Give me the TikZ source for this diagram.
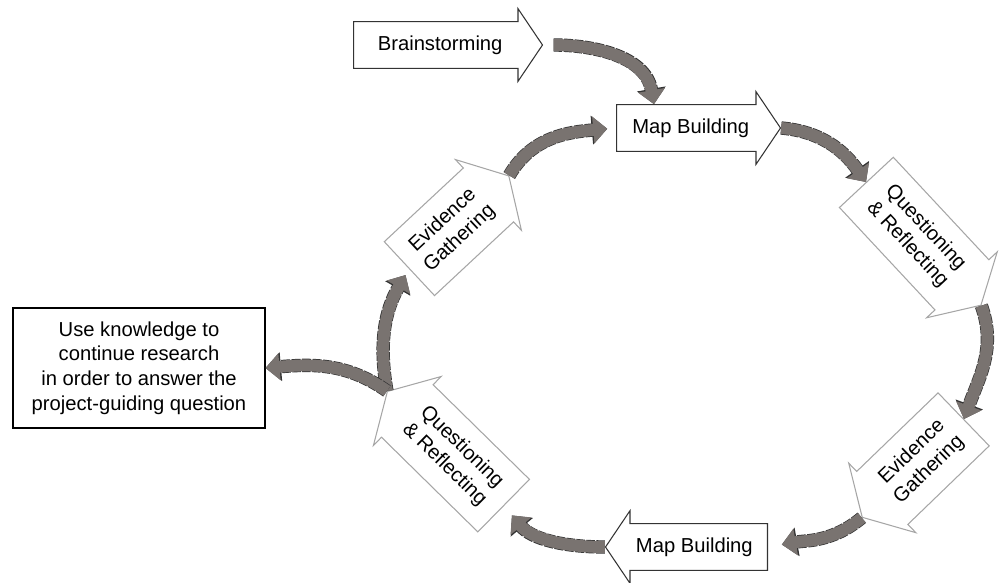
\documentclass[tikz,border=0pt]{standalone}
\usepackage{fontspec}
\setmainfont{Liberation Sans}
\usetikzlibrary{arrows.meta, shapes.arrows}

\definecolor{flowgray}{RGB}{121,115,112}

\begin{document}
\begin{tikzpicture}[
    x=0.02cm, y=0.02cm,
    every node/.style={font=\fontsize{11.5}{14}\selectfont, inner sep=2pt},
    flatarrow/.style={single arrow, draw=black!80, line width=0.6pt, fill=white, inner ysep=7.6pt, single arrow head extend=0.26cm, single arrow tip angle=112, anchor=tail},
    tiltarrow/.style={single arrow, draw=black!35, line width=0.6pt, fill=white, align=center, inner ysep=8.3pt, single arrow head extend=0.23cm, single arrow tip angle=120, anchor=tail},
    flow/.style={draw=flowgray, line width=6.8pt, -{Triangle[width=15pt, length=8pt]},
        preaction={draw=black!80, line width=7.6pt, dash pattern=on 5pt off 0.8pt, -{Triangle[width=16pt, length=8.8pt]}}}
]
\useasboundingbox (0,0) rectangle (1000,582);

% Nodes
\node[flatarrow, minimum height=3.78cm] (BS) at (353,537) {Brainstorming};
\node[flatarrow, minimum height=3.28cm] (MB1) at (616,454) {Map Building};
\node[tiltarrow, minimum height=3.36cm, rotate=-47] (QR1) at (866,400) {Questioning\\\& Reflecting};
\node[tiltarrow, minimum height=2.82cm, rotate=44, shape border rotate=180] (EG1) at (964,163) {Evidence\\Gathering};
\node[flatarrow, minimum height=3.24cm, shape border rotate=180] (MB2) at (768,35) {Map Building};
\node[tiltarrow, minimum height=3.26cm, rotate=-44.5, shape border rotate=180] (QR2) at (504,76) {Questioning\\\& Reflecting};
\node[tiltarrow, minimum height=2.72cm, rotate=43] (EG2) at (409,313) {Evidence\\Gathering};
\node[draw, align=center, minimum width=5.04cm, minimum height=2.4cm, line width=0.6pt] (UK) at (139,214) {Use knowledge to\\continue research\\in order to answer the\\project-guiding question};

% Arrows
\draw[flow, shorten <=6pt] (BS.tip) to[out=0, in=100] (MB1.147);
\draw[flow] (MB1.tip) to[out=-5, in=125] (QR1.tail);
\draw[flow] (QR1.tip) to[out=-70, in=70] (EG1.tail);
\draw[flow, shorten >=8pt] (EG1.tip) to[out=-140, in=10] (MB2.tail);
\draw[flow, shorten >=7pt] (MB2.tip) to[out=180, in=-50] (QR2.tail);
\draw[flow, shorten >=4pt] (QR2.tip) to[out=100, in=-120] (EG2.tail);
\draw[flow] (QR2.tip) to[out=145, in=5] (UK.east);
\draw[flow, shorten >=5pt] (EG2.tip) to[out=60, in=185] (MB1.tail);

\end{tikzpicture}
\end{document}
